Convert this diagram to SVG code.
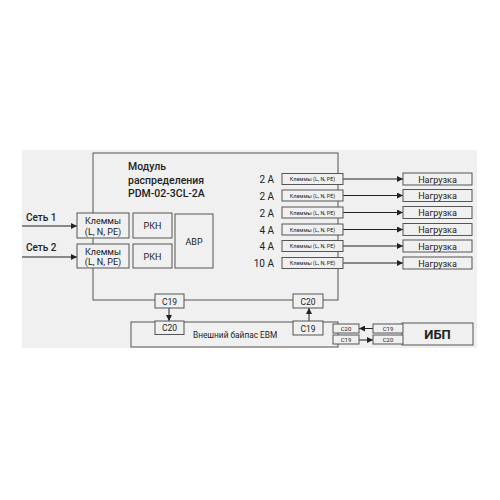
<svg xmlns="http://www.w3.org/2000/svg" width="500" height="500" viewBox="0 0 500 500">
<defs>
<style>
.bx{fill:#f0f0f0;stroke:#555;stroke-width:1}
.ln{fill:none;stroke:#222;stroke-width:1}
.t{font-family:Roboto,"Liberation Sans",sans-serif;fill:#222}
.c{text-anchor:middle}
</style>
<marker id="ah" viewBox="0 0 6 6" refX="6" refY="3" markerWidth="6" markerHeight="6" orient="auto" markerUnits="userSpaceOnUse">
<path d="M0,0 L6,3 L0,6 z" fill="#222"/>
</marker>
</defs>
<rect x="0" y="0" width="500" height="500" fill="#fff"/>
<rect x="22" y="150" width="455" height="198" fill="#f0f0f0"/>

<g id="module">
<rect x="93" y="153" width="245" height="147" fill="none" stroke="#555"/>
<text class="t" x="128" y="170" font-size="10.5" font-weight="500">Модуль</text>
<text class="t" x="128" y="183.5" font-size="10.5" font-weight="500">распределения</text>
<text class="t" x="128" y="197" font-size="10.5" font-weight="500">PDM-02-3CL-2A</text>
</g>

<g id="connectors">
<line class="ln" x1="22" y1="226" x2="77" y2="226" marker-end="url(#ah)"/>
<line class="ln" x1="22" y1="257" x2="77" y2="257" marker-end="url(#ah)"/>
<line class="ln" x1="343" y1="179" x2="403" y2="179" marker-end="url(#ah)"/>
<line class="ln" x1="343" y1="195.5" x2="403" y2="195.5" marker-end="url(#ah)"/>
<line class="ln" x1="343" y1="212.5" x2="403" y2="212.5" marker-end="url(#ah)"/>
<line class="ln" x1="343" y1="229.5" x2="403" y2="229.5" marker-end="url(#ah)"/>
<line class="ln" x1="343" y1="246" x2="403" y2="246" marker-end="url(#ah)"/>
<line class="ln" x1="343" y1="263" x2="403" y2="263" marker-end="url(#ah)"/>
<line class="ln" x1="169" y1="308" x2="169" y2="321" marker-end="url(#ah)"/>
<line class="ln" x1="309" y1="321" x2="309" y2="308" marker-end="url(#ah)"/>
<line class="ln" x1="373" y1="328.5" x2="359" y2="328.5" marker-end="url(#ah)"/>
<line class="ln" x1="359" y1="340" x2="373" y2="340" marker-end="url(#ah)"/>
</g>

<g id="set1"><text class="t" x="26" y="221" font-size="10" font-weight="500">Сеть 1</text></g>
<g id="set2"><text class="t" x="26" y="251" font-size="10" font-weight="500">Сеть 2</text></g>

<g id="klem1">
<rect class="bx" x="77" y="213" width="52" height="25"/>
<text class="t c" x="103" y="224" font-size="9">Клеммы</text>
<text class="t c" x="103" y="234.5" font-size="9">(L, N, PE)</text>
</g>
<g id="klem2">
<rect class="bx" x="77" y="244" width="52" height="24"/>
<text class="t c" x="103" y="254.5" font-size="9">Клеммы</text>
<text class="t c" x="103" y="265" font-size="9">(L, N, PE)</text>
</g>
<g id="pkh1">
<rect class="bx" x="133" y="213" width="39" height="25"/>
<text class="t c" x="152.5" y="229" font-size="9">РКН</text>
</g>
<g id="pkh2">
<rect class="bx" x="133" y="244" width="39" height="24"/>
<text class="t c" x="152.5" y="259.5" font-size="9">РКН</text>
</g>
<g id="avr">
<rect class="bx" x="175" y="214" width="38" height="54"/>
<text class="t c" x="194" y="244.5" font-size="9">АВР</text>
</g>

<g id="out1"><text class="t" x="274" y="183" font-size="10" text-anchor="end">2 A</text><rect class="bx" x="282" y="173.5" width="61" height="11"/><text class="t c" x="312.5" y="181" font-size="5.5">Клеммы (L, N, PE)</text></g>
<g id="out2"><text class="t" x="274" y="199.5" font-size="10" text-anchor="end">2 A</text><rect class="bx" x="282" y="190" width="61" height="11"/><text class="t c" x="312.5" y="197.5" font-size="5.5">Клеммы (L, N, PE)</text></g>
<g id="out3"><text class="t" x="274" y="216.5" font-size="10" text-anchor="end">2 A</text><rect class="bx" x="282" y="207" width="61" height="11"/><text class="t c" x="312.5" y="214.5" font-size="5.5">Клеммы (L, N, PE)</text></g>
<g id="out4"><text class="t" x="274" y="233.5" font-size="10" text-anchor="end">4 A</text><rect class="bx" x="282" y="224" width="61" height="11"/><text class="t c" x="312.5" y="231.5" font-size="5.5">Клеммы (L, N, PE)</text></g>
<g id="out5"><text class="t" x="274" y="250" font-size="10" text-anchor="end">4 A</text><rect class="bx" x="282" y="240.5" width="61" height="11"/><text class="t c" x="312.5" y="248" font-size="5.5">Клеммы (L, N, PE)</text></g>
<g id="out6"><text class="t" x="274" y="267" font-size="10" text-anchor="end">10 A</text><rect class="bx" x="282" y="257.5" width="61" height="11"/><text class="t c" x="312.5" y="265" font-size="5.5">Клеммы (L, N, PE)</text></g>

<g id="load1"><rect class="bx" x="403" y="173" width="69" height="12"/><text class="t c" x="437.5" y="182.5" font-size="9">Нагрузка</text></g>
<g id="load2"><rect class="bx" x="403" y="189.5" width="69" height="12"/><text class="t c" x="437.5" y="199" font-size="9">Нагрузка</text></g>
<g id="load3"><rect class="bx" x="403" y="206.5" width="69" height="12"/><text class="t c" x="437.5" y="216" font-size="9">Нагрузка</text></g>
<g id="load4"><rect class="bx" x="403" y="223.5" width="69" height="12"/><text class="t c" x="437.5" y="233" font-size="9">Нагрузка</text></g>
<g id="load5"><rect class="bx" x="403" y="240" width="69" height="12"/><text class="t c" x="437.5" y="249.5" font-size="9">Нагрузка</text></g>
<g id="load6"><rect class="bx" x="403" y="257" width="69" height="12"/><text class="t c" x="437.5" y="266.5" font-size="9">Нагрузка</text></g>

<g id="bypass">
<rect x="131" y="322" width="207" height="25" fill="none" stroke="#555"/>
<text class="t" x="193" y="337.5" font-size="8.3">Внешний байпас EBM</text>
</g>
<g id="m_c19"><rect class="bx" x="155" y="294" width="29" height="14"/><text class="t c" x="169.5" y="304.5" font-size="8.5">C19</text></g>
<g id="m_c20"><rect class="bx" x="293" y="294" width="30" height="14"/><text class="t c" x="308" y="304.5" font-size="8.5">C20</text></g>
<g id="b_c20"><rect class="bx" x="155" y="321" width="29" height="13.5"/><text class="t c" x="169.5" y="331" font-size="8.5">C20</text></g>
<g id="b_c19"><rect class="bx" x="293" y="321" width="30" height="14"/><text class="t c" x="308" y="331.5" font-size="8.5">C19</text></g>

<g id="ups">
<rect class="bx" x="402" y="323" width="71" height="22"/>
<text class="t c" x="437.5" y="339" font-size="13" font-weight="bold">ИБП</text>
</g>
<g id="bp_c20"><rect class="bx" x="333" y="324" width="26" height="9"/><text class="t c" x="346" y="331" font-size="6">C20</text></g>
<g id="bp_c19"><rect class="bx" x="333" y="335" width="26" height="9"/><text class="t c" x="346" y="342" font-size="6">C19</text></g>
<g id="ups_c19"><rect class="bx" x="373" y="324" width="30" height="9"/><text class="t c" x="388" y="331" font-size="6">C19</text></g>
<g id="ups_c20"><rect class="bx" x="373" y="335" width="30" height="9"/><text class="t c" x="388" y="342" font-size="6">C20</text></g>
</svg>
